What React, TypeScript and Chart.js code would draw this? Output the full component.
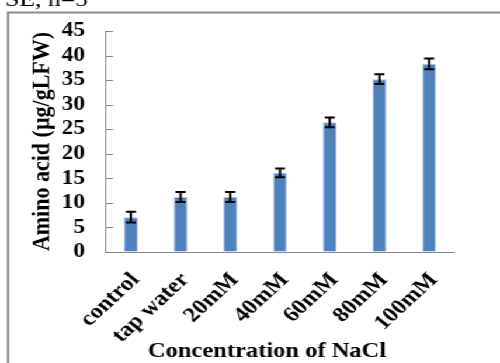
import React, { useEffect, useRef } from "react";
import { Chart, registerables } from "chart.js";

Chart.register(...registerables);

const categories = ["control", "tap water", "20mM", "40mM", "60mM", "80mM", "100mM"];
const aminoAcid = [7.1, 11.2, 11.2, 16.1, 26.4, 35.2, 38.3];
const errors = [1.1, 1.0, 1.0, 0.9, 1.0, 1.0, 1.1];
const yTicks = [0, 5, 10, 15, 20, 25, 30, 35, 40, 45];
const yTitle = "Amino acid (µg/gLFW)";
const xTitle = "Concentration of NaCl";
const topNote = "SE, n=5";

const W = 428;
const H = 363;
const S = 500 / W;
const SERIF = "'Liberation Serif', 'Times New Roman', serif";
const GRAY = "#868686";

const decorPlugin = {
  id: "decor",
  beforeDraw(chart: any) {
    const ctx = chart.ctx;
    ctx.save();
    ctx.strokeStyle = "#8c8c8c";
    ctx.lineWidth = 2;
    ctx.beginPath();
    ctx.moveTo(8 / S, H + 5);
    ctx.lineTo(8 / S, 12.5);
    ctx.lineTo(W + 5, 12.5);
    ctx.stroke();
    ctx.fillStyle = "#000";
    ctx.font = `22px ${SERIF}`;
    ctx.textAlign = "right";
    ctx.textBaseline = "alphabetic";
    ctx.fillText(topNote, 88 / S, 6);
    ctx.restore();
  },
  afterDraw(chart: any) {
    const ctx = chart.ctx;
    const y = chart.scales.y;
    const area = chart.chartArea;
    ctx.save();
    ctx.strokeStyle = GRAY;
    ctx.lineWidth = 1;
    yTicks.forEach((v) => {
      if (v === 0) return;
      const py = Math.round(y.getPixelForValue(v)) + 0.5;
      ctx.beginPath();
      ctx.moveTo(area.left, py);
      ctx.lineTo(area.left + 6, py);
      ctx.stroke();
    });
    const meta = chart.getDatasetMeta(0);
    ctx.strokeStyle = "#000";
    ctx.lineWidth = 2;
    meta.data.forEach((bar: any, i: number) => {
      const cx = bar.x;
      const top = y.getPixelForValue(aminoAcid[i] + errors[i]);
      const bot = y.getPixelForValue(aminoAcid[i] - errors[i]);
      const hw = 4.3;
      ctx.beginPath();
      ctx.moveTo(cx, top);
      ctx.lineTo(cx, bot);
      ctx.moveTo(cx - hw, top);
      ctx.lineTo(cx + hw, top);
      ctx.moveTo(cx - hw, bot);
      ctx.lineTo(cx + hw, bot);
      ctx.stroke();
    });
    ctx.fillStyle = "#000";
    ctx.font = `bold 21px ${SERIF}`;
    ctx.textAlign = "center";
    ctx.textBaseline = "middle";
    ctx.fillText(xTitle, 267 / S, 352);
    ctx.restore();
  },
};

export default function App() {
  const ref = useRef<HTMLCanvasElement>(null);
  useEffect(() => {
    if (!ref.current) return;
    const chart = new Chart(ref.current, {
      type: "bar",
      data: {
        labels: categories,
        datasets: [
          {
            data: aminoAcid,
            backgroundColor: "#4F81BD",
            borderColor: "#a9c2e3",
            borderWidth: 1,
            barPercentage: 0.28,
            categoryPercentage: 1,
          },
        ],
      },
      options: {
        animation: false,
        responsive: false,
        devicePixelRatio: 1,
        layout: { padding: { left: 0, right: W - 454 / S, top: 31, bottom: 0 } },
        plugins: { legend: { display: false }, tooltip: { enabled: false } },
        scales: {
          x: {
            afterFit(scale: any) {
              scale.height = H - 252;
            },
            grid: { display: true, drawOnChartArea: false, drawTicks: false },
            border: { display: true, color: GRAY, width: 1 },
            ticks: {
              autoSkip: false,
              minRotation: 47,
              maxRotation: 47,
              padding: 16,
              labelOffset: 4,
              color: "#000",
              font: { family: SERIF, size: 21, weight: "bold" },
            },
          },
          y: {
            min: 0,
            max: 45,
            afterFit(scale: any) {
              scale.width = 106 / S;
            },
            afterBuildTicks(scale: any) {
              scale.ticks = yTicks.map((v) => ({ value: v }));
            },
            grid: { display: true, drawOnChartArea: false, drawTicks: false },
            border: { display: true, color: GRAY, width: 1 },
            ticks: {
              autoSkip: false,
              stepSize: 5,
              padding: 18,
              color: "#000",
              font: { family: SERIF, size: 20, weight: "bold" },
            },
            title: {
              display: true,
              text: yTitle,
              color: "#000",
              font: { family: SERIF, size: 22, weight: "bold" },
              padding: { top: 23, bottom: 0 },
            },
          },
        },
      },
      plugins: [decorPlugin],
    });
    return () => chart.destroy();
  }, []);
  return (
    <div
      style={{
        position: "absolute",
        left: 0,
        top: 0,
        width: W,
        height: H,
        transform: `scaleX(${S})`,
        transformOrigin: "0 0",
        background: "#fff",
      }}
    >
      <canvas ref={ref} width={W} height={H} style={{ display: "block" }} />
    </div>
  );
}
